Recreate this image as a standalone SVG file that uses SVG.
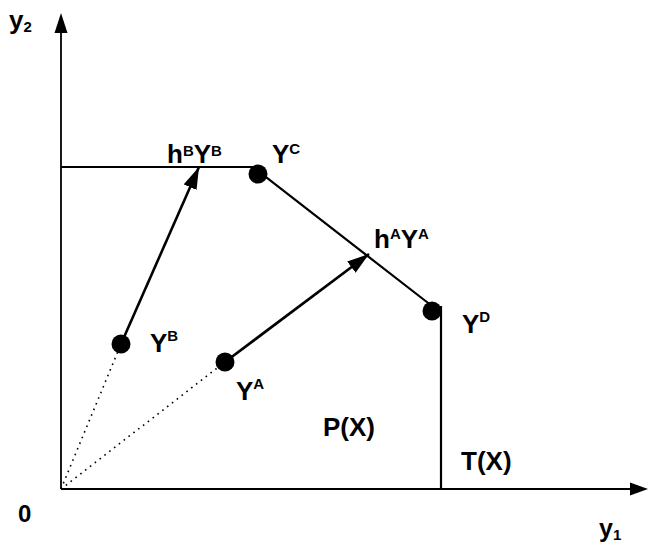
<svg xmlns="http://www.w3.org/2000/svg" width="648" height="547" viewBox="0 0 648 547">
<style>
text{font-family:"Liberation Sans",Arial,sans-serif;font-weight:bold;fill:#000}
.lbl{font-size:26px}
.sup{font-size:15px}
.ax{stroke:#000;stroke-width:1.8;fill:none}
.fr{stroke:#000;stroke-width:2.2;fill:none}
.arr{stroke:#000;stroke-width:2.6;fill:none}
.dot{stroke:#000;stroke-width:1.6;fill:none;stroke-dasharray:1.6 4.5}
.pt{fill:#000}
</style>
<defs>
<marker id="ah" markerUnits="userSpaceOnUse" markerWidth="24" markerHeight="16" refX="22" refY="7" orient="auto">
<path d="M0,0 L22,7 L0,14 z" fill="#000"/>
</marker>
</defs>
<g id="axes">
<line class="ax" x1="61" y1="489" x2="61" y2="30"/>
<polygon points="61,13 54.5,33 67.5,33" fill="#000"/>
<line class="ax" x1="61" y1="489" x2="632" y2="489"/>
<polygon points="648,489 630,482.5 630,495.5" fill="#000"/>
<text x="9" y="29" style="font-size:26px">y<tspan class="sup" dy="3">2</tspan></text>
<text x="599" y="537" style="font-size:25px">y<tspan class="sup" dy="3">1</tspan></text>
<text x="18" y="522" style="font-size:24px">0</text>
</g>
<g id="frontier">
<polyline class="fr" points="61,167 252,167 258,171 432,306"/>
<line class="fr" x1="441" y1="306" x2="441" y2="489"/>
</g>
<g id="connectors">
<line class="dot" x1="61" y1="489" x2="121" y2="344"/>
<line class="dot" x1="61" y1="489" x2="225" y2="362"/>
<line class="arr" x1="121" y1="344" x2="199" y2="167" marker-end="url(#ah)"/>
<line class="arr" x1="225" y1="362" x2="369" y2="254" marker-end="url(#ah)"/>
</g>
<g id="node-YB">
<circle class="pt" cx="121" cy="344" r="9.5"/>
<text class="lbl" x="150" y="352">Y<tspan class="sup" dy="-11">B</tspan></text>
</g>
<g id="node-YA">
<circle class="pt" cx="225" cy="362" r="9.5"/>
<text class="lbl" x="236" y="400">Y<tspan class="sup" dy="-11">A</tspan></text>
</g>
<g id="node-YC">
<circle class="pt" cx="258" cy="174" r="9.5"/>
<text class="lbl" x="272" y="163">Y<tspan class="sup" dy="-9">C</tspan></text>
</g>
<g id="node-YD">
<circle class="pt" cx="432" cy="311" r="9.5"/>
<text class="lbl" x="462" y="333">Y<tspan class="sup" dy="-11">D</tspan></text>
</g>
<g id="node-hBYB">
<text class="lbl" x="167" y="163">h<tspan class="sup" dy="-7">B</tspan><tspan dy="7">Y</tspan><tspan class="sup" dy="-7">B</tspan></text>
</g>
<g id="node-hAYA">
<text class="lbl" x="374" y="248">h<tspan class="sup" dy="-9">A</tspan><tspan dy="9">Y</tspan><tspan class="sup" dy="-9">A</tspan></text>
</g>
<g id="node-PX">
<text class="lbl" x="323" y="436">P(X)</text>
</g>
<g id="node-TX">
<text class="lbl" x="461" y="470">T(X)</text>
</g>
</svg>
